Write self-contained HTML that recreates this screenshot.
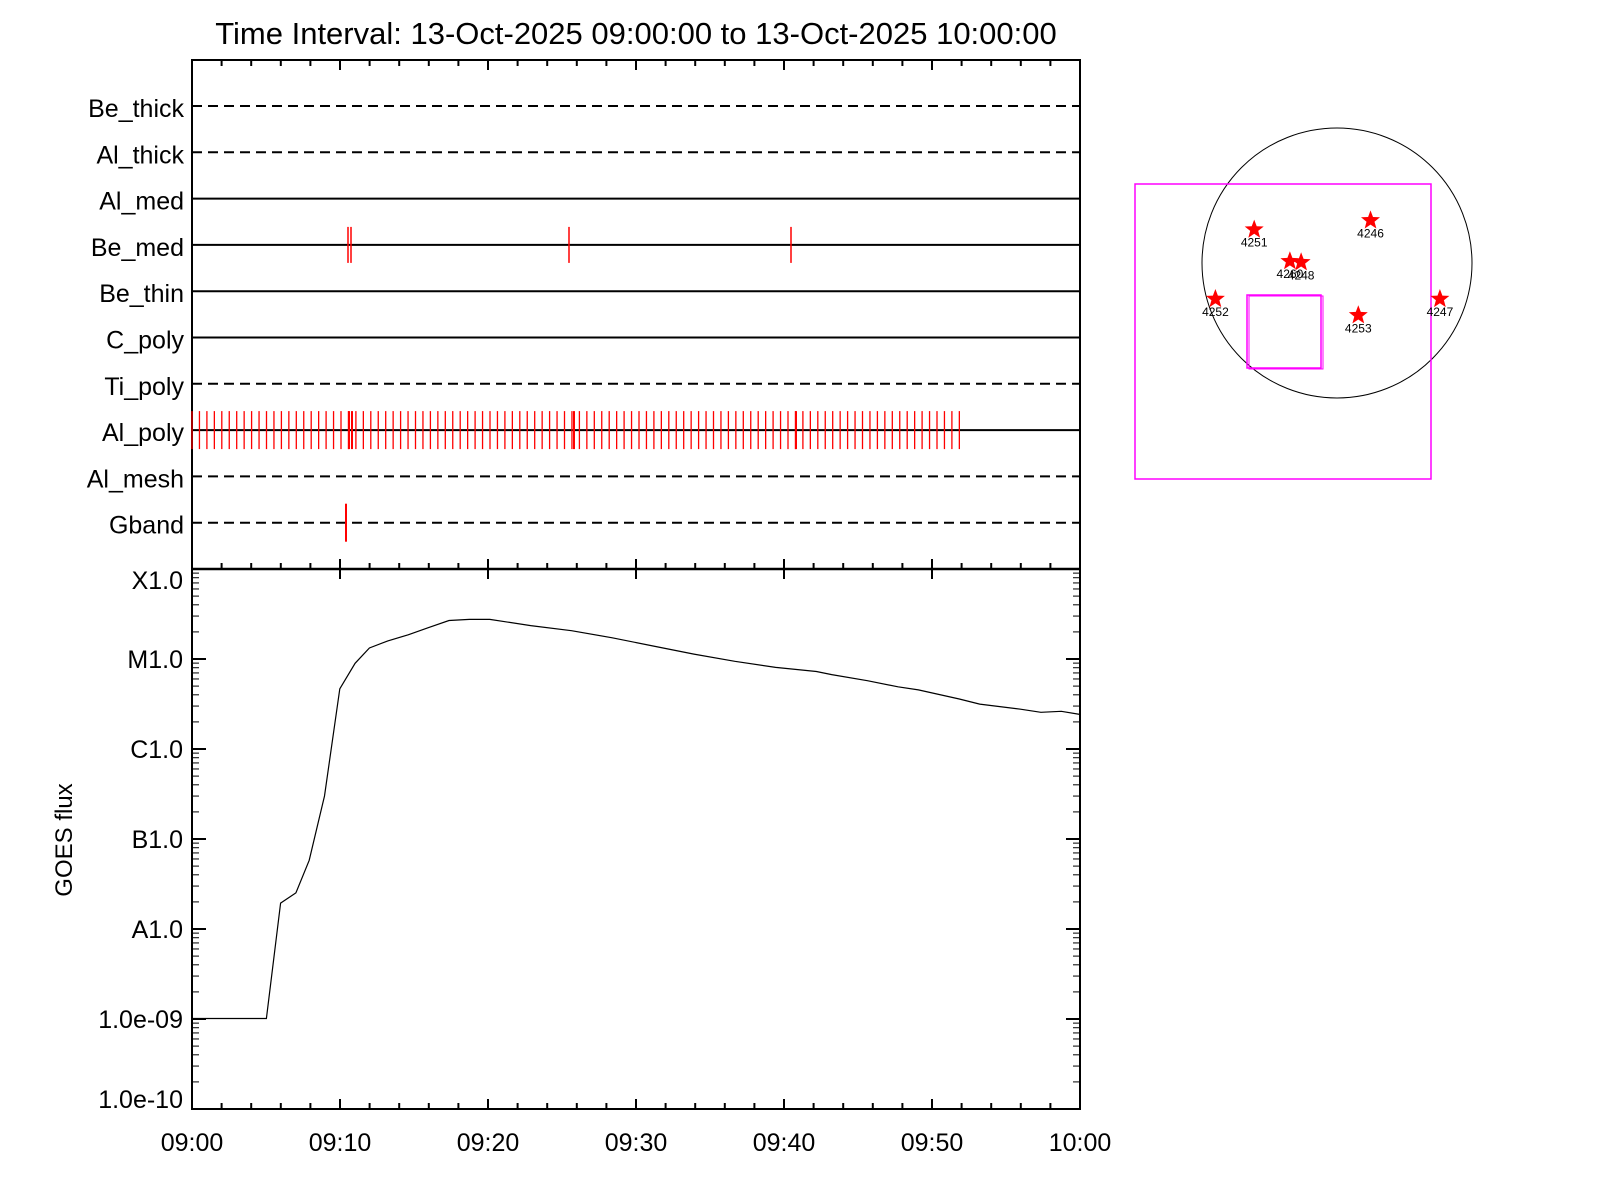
<!DOCTYPE html>
<html><head><meta charset="utf-8"><style>
html,body{margin:0;padding:0;background:#fff;width:1600px;height:1200px;overflow:hidden}
text{font-family:"Liberation Sans",sans-serif}
</style></head><body>
<svg id="s" width="1600" height="1200" xmlns="http://www.w3.org/2000/svg">
<text x="636" y="44" font-size="31" text-anchor="middle">Time Interval: 13-Oct-2025 09:00:00 to 13-Oct-2025 10:00:00</text>
<g id="g"></g>
</svg>
<script>
const g=document.getElementById('g');let h='';
const L=192,R=1080,T=60,D=569,B=1109;const px=m=>L+m*(R-L)/60;
function ln(x1,y1,x2,y2,c,w,extra){h+=`<line x1="${x1}" y1="${y1}" x2="${x2}" y2="${y2}" stroke="${c||'#000'}" stroke-width="${w||1}" ${extra||''}/>`;}
h+=`<rect x="${L}" y="${T}" width="${R-L}" height="${B-T}" fill="none" stroke="#000" stroke-width="2"/>`;
ln(L,D,R,D,'#000',2.5);
const names=['Be_thick','Al_thick','Al_med','Be_med','Be_thin','C_poly','Ti_poly','Al_poly','Al_mesh','Gband'];
const dashed=[1,1,0,0,0,0,1,0,1,1];
names.forEach((n,i)=>{const y=106+i*46.3;
 ln(L,y,R,y,'#000',2,dashed[i]?'stroke-dasharray="10,6"':'');
 h+=`<text x="184" y="${y+11}" font-size="25" text-anchor="end">${n}</text>`;});
const yr=i=>106+i*46.3;
[348,351,569,791].forEach(x=>ln(x,yr(3)-18,x,yr(3)+18,'red',1.5));
for(let x=192;x<=960;x+=7.45)ln(x,yr(7)-19,x,yr(7)+19,'red',1.3);
[349,352,574,796].forEach(x=>ln(x,yr(7)-19,x,yr(7)+19,'red',2));
ln(346,yr(9)-19,346,yr(9)+19,'red',2);
for(let m=0;m<=60;m+=2){const x=px(m),maj=m%10==0,l=maj?10:6;
 ln(x,T,x,T+l,'#000',2);ln(x,D-l,x,D+(maj?l:0),'#000',2);ln(x,B,x,B-l,'#000',2);
 if(maj){const hh=9+Math.floor(m/60),mm=m%60;h+=`<text x="${x}" y="1151" font-size="25" text-anchor="middle">${String(hh).padStart(2,'0')}:${String(mm).padStart(2,'0')}</text>`;}}
const dec=90;const yv=e=>B-(e+10)*dec;
const labs=['1.0e-10','1.0e-09','A1.0','B1.0','C1.0','M1.0','X1.0'];
for(let e=-10;e<=-4;e++){const y=yv(e);ln(L,y,L+14,y,'#000',2);ln(R,y,R-14,y,'#000',2);
 let ty=y+9; if(e==-4)ty=y+20; if(e==-10)ty=y-1;
 h+=`<text x="183" y="${ty}" font-size="25" text-anchor="end">${labs[e+10]}</text>`;
 if(e<-4)for(let k=2;k<10;k++){const yy=y-Math.log10(k)*dec;ln(L,yy,L+7,yy);ln(R,yy,R-7,yy);}}
h+=`<text transform="translate(72,840) rotate(-90)" font-size="24" text-anchor="middle">GOES flux</text>`;
const pts=[[188,998],[261,998],[275,885],[290,875],[303,843],[318,780],[333,675],[348,650],[362,635],[380,628],[400,622],[420,615],[440,608],[460,607],[480,607],[520,613],[560,618],[600,625],[640,633],[680,641],[720,648],[760,654],[800,658],[815,661],[850,667],[880,673],[900,676],[940,685],[960,690],[1000,695],[1020,698],[1040,697],[1058,700]];
h+=`<polyline fill="none" stroke="#000" stroke-width="1.2" points="${pts.map(p=>[(p[0]*1.0205).toFixed(1),(p[1]*1.0205).toFixed(1)].join(',')).join(' ')}"/>`;
h+=`<circle cx="1337" cy="263" r="135" fill="none" stroke="#000" stroke-width="1"/>`;
h+=`<rect x="1135" y="184" width="296" height="295" fill="none" stroke="#f0f" stroke-width="1.5"/>`;
h+=`<rect x="1247" y="295" width="74" height="73" fill="none" stroke="#f0f" stroke-width="1.5"/>`;
h+=`<rect x="1249" y="296" width="74" height="73" fill="none" stroke="#f0f" stroke-width="1"/>`;
function star(cx,cy,r){let p=[];for(let i=0;i<10;i++){const a=-Math.PI/2+i*Math.PI/5,rr=i%2?r*0.42:r;p.push((cx+rr*Math.cos(a)).toFixed(1)+','+(cy+rr*Math.sin(a)).toFixed(1));}h+=`<polygon points="${p.join(' ')}" fill="red"/>`;}
[[1229,225,'4251'],[1343,216,'4246'],[1264,256,'4260'],[1275,257,'4248'],[1191,293,'4252'],[1331,309,'4253'],[1411,293,'4247']].forEach(s=>{const x=s[0]*1.0205,y=s[1]*1.0205;star(x,y,10);h+=`<text x="${x}" y="${y+17}" font-size="12" text-anchor="middle">${s[2]}</text>`;});
g.innerHTML=h;
</script>
</body></html>
